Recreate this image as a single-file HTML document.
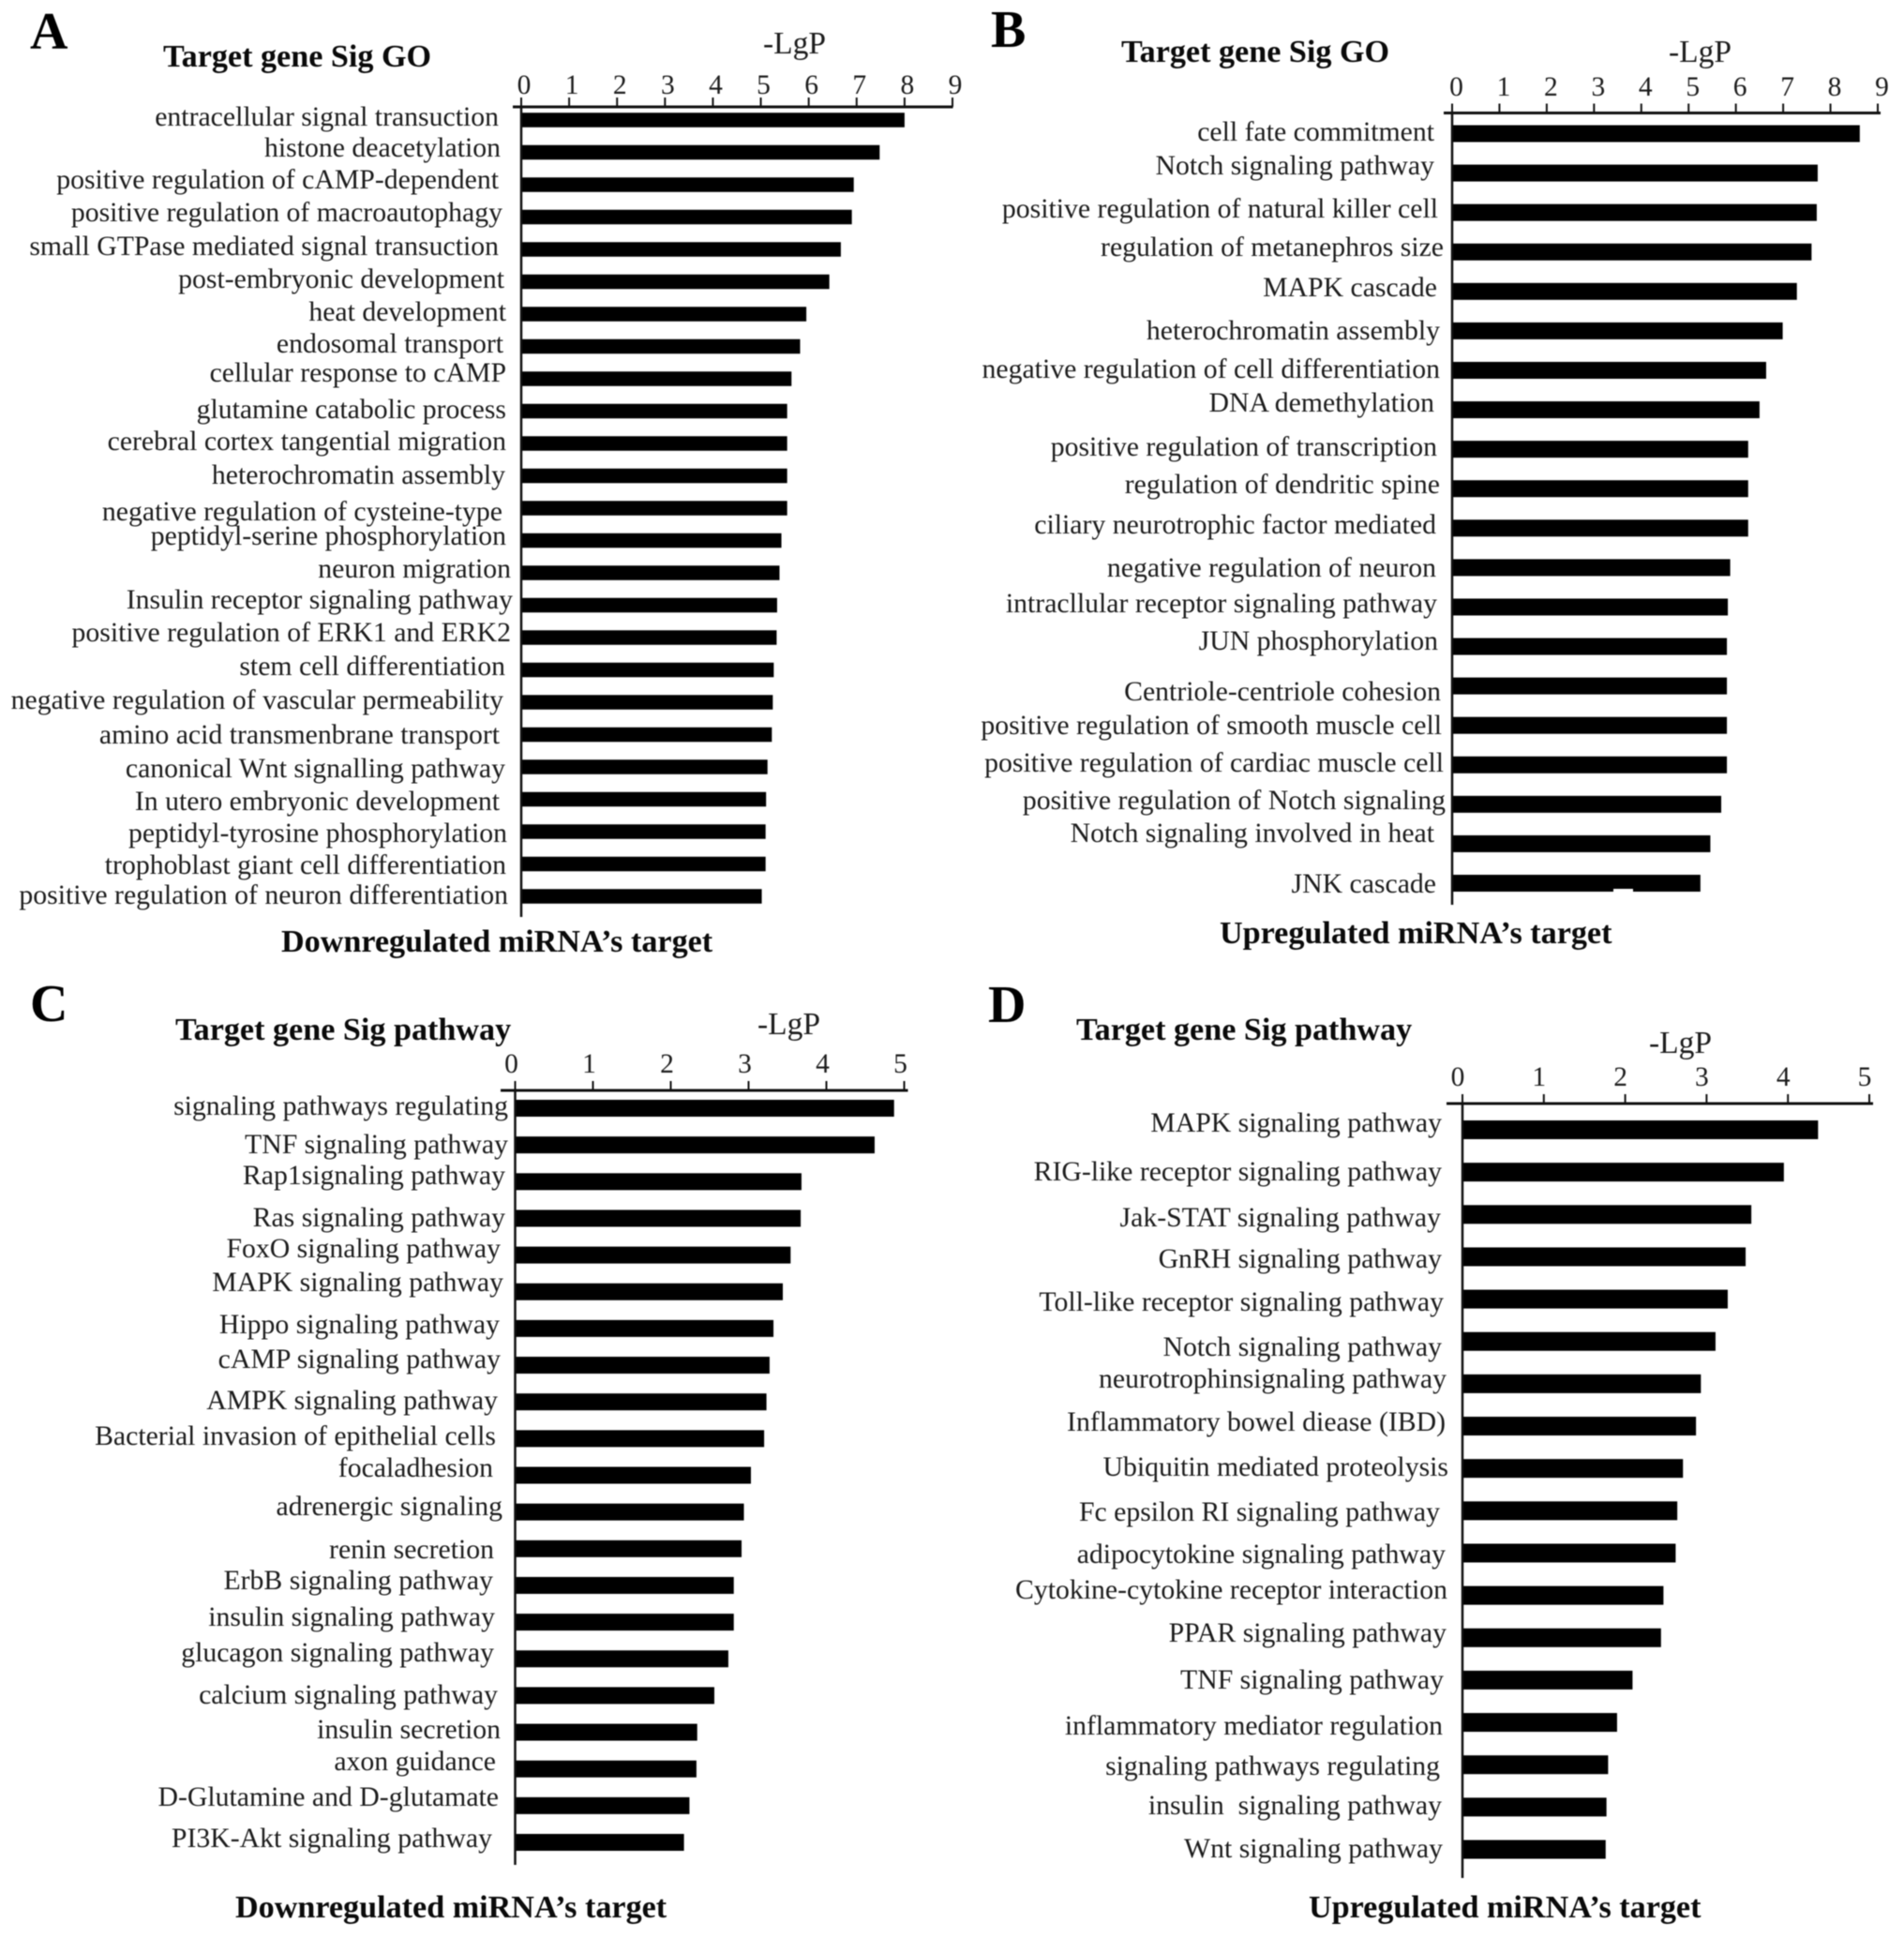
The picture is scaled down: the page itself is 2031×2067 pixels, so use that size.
<!DOCTYPE html>
<html lang="en">
<head>
<meta charset="utf-8">
<title>miRNA target gene GO and pathway enrichment</title>
<style>
  html, body { margin: 0; padding: 0; background: #fff; }
  #figure { display: block; width: 2031px; height: 2067px; filter: blur(0.55px); }
  text { font-family: "Liberation Serif", "Times New Roman", serif; fill: #1c1c1c; }
  .cat { font-size: 29.75px; text-anchor: end; }
  .tick-label { font-size: 29.5px; text-anchor: middle; }
  .head { font-size: 34.15px; font-weight: bold; fill: #0a0a0a; }
  .letter { font-size: 56px; font-weight: bold; fill: #000; }
  .unit { font-size: 33.5px; }
</style>
</head>
<body>
<svg id="figure" xmlns="http://www.w3.org/2000/svg" width="2031" height="2067" viewBox="0 0 2031 2067">
  <rect width="2031" height="2067" fill="#fff"/>

  <g id="panel-a">
    <text class="letter" x="32" y="52">A</text>
    <text class="head" x="174" y="71">Target gene Sig GO</text>
    <text class="unit" x="814" y="57">-LgP</text>
    <text class="head" x="300" y="1015">Downregulated miRNA’s target</text>
    <g>
      <text class="cat" x="532" y="134">entracellular signal transuction</text>
      <text class="cat" x="534" y="167">histone deacetylation</text>
      <text class="cat" x="532" y="201">positive regulation of cAMP-dependent</text>
      <text class="cat" x="536" y="236">positive regulation of macroautophagy</text>
      <text class="cat" x="532" y="272">small GTPase mediated signal transuction</text>
      <text class="cat" x="538" y="307">post-embryonic development</text>
      <text class="cat" x="540" y="342">heat development</text>
      <text class="cat" x="537" y="376">endosomal transport</text>
      <text class="cat" x="540" y="407">cellular response to cAMP</text>
      <text class="cat" x="540" y="446">glutamine catabolic process</text>
      <text class="cat" x="540" y="480">cerebral cortex tangential migration</text>
      <text class="cat" x="539" y="516">heterochromatin assembly</text>
      <text class="cat" x="536" y="555">negative regulation of cysteine-type</text>
      <text class="cat" x="540" y="581">peptidyl-serine phosphorylation</text>
      <text class="cat" x="545" y="616">neuron migration</text>
      <text class="cat" x="547" y="649">Insulin receptor signaling pathway</text>
      <text class="cat" x="545" y="684">positive regulation of ERK1 and ERK2</text>
      <text class="cat" x="539" y="720">stem cell differentiation</text>
      <text class="cat" x="537" y="756">negative regulation of vascular permeability</text>
      <text class="cat" x="533" y="793">amino acid transmenbrane transport</text>
      <text class="cat" x="539" y="829">canonical Wnt signalling pathway</text>
      <text class="cat" x="533" y="864">In utero embryonic development</text>
      <text class="cat" x="541" y="898">peptidyl-tyrosine phosphorylation</text>
      <text class="cat" x="540" y="932">trophoblast giant cell differentiation</text>
      <text class="cat" x="542" y="964">positive regulation of neuron differentiation</text>
    </g>
  </g>

  <g id="panel-b">
    <text class="letter" x="1057" y="50">B</text>
    <text class="head" x="1196" y="66">Target gene Sig GO</text>
    <text class="unit" x="1780" y="66">-LgP</text>
    <text class="head" x="1301" y="1006">Upregulated miRNA’s target</text>
    <g>
      <text class="cat" x="1530" y="150">cell fate commitment</text>
      <text class="cat" x="1530" y="186">Notch signaling pathway</text>
      <text class="cat" x="1534" y="232">positive regulation of natural killer cell</text>
      <text class="cat" x="1540" y="273">regulation of metanephros size</text>
      <text class="cat" x="1533" y="316">MAPK cascade</text>
      <text class="cat" x="1536" y="362">heterochromatin assembly</text>
      <text class="cat" x="1536" y="403">negative regulation of cell differentiation</text>
      <text class="cat" x="1530" y="439">DNA demethylation</text>
      <text class="cat" x="1533" y="486">positive regulation of transcription</text>
      <text class="cat" x="1536" y="526">regulation of dendritic spine</text>
      <text class="cat" x="1532" y="569">ciliary neurotrophic factor mediated</text>
      <text class="cat" x="1532" y="615">negative regulation of neuron</text>
      <text class="cat" x="1533" y="653">intracllular receptor signaling pathway</text>
      <text class="cat" x="1534" y="693">JUN phosphorylation</text>
      <text class="cat" x="1537" y="747">Centriole-centriole cohesion</text>
      <text class="cat" x="1538" y="783">positive regulation of smooth muscle cell</text>
      <text class="cat" x="1540" y="823">positive regulation of cardiac muscle cell</text>
      <text class="cat" x="1542" y="863">positive regulation of Notch signaling</text>
      <text class="cat" x="1530" y="898">Notch signaling involved in heat</text>
      <text class="cat" x="1532" y="952">JNK cascade</text>
    </g>
  </g>

  <g id="panel-c">
    <text class="letter" x="32" y="1089">C</text>
    <text class="head" x="187" y="1109">Target gene Sig pathway</text>
    <text class="unit" x="808" y="1103">-LgP</text>
    <text class="head" x="251" y="2045">Downregulated miRNA’s target</text>
    <g>
      <text class="cat" x="542" y="1189">signaling pathways regulating</text>
      <text class="cat" x="542" y="1230">TNF signaling pathway</text>
      <text class="cat" x="539" y="1263">Rap1signaling pathway</text>
      <text class="cat" x="539" y="1308">Ras signaling pathway</text>
      <text class="cat" x="534" y="1341">FoxO signaling pathway</text>
      <text class="cat" x="537" y="1377">MAPK signaling pathway</text>
      <text class="cat" x="533" y="1422">Hippo signaling pathway</text>
      <text class="cat" x="534" y="1459">cAMP signaling pathway</text>
      <text class="cat" x="531" y="1503">AMPK signaling pathway</text>
      <text class="cat" x="529" y="1541">Bacterial invasion of epithelial cells</text>
      <text class="cat" x="526" y="1575">focaladhesion</text>
      <text class="cat" x="536" y="1616">adrenergic signaling</text>
      <text class="cat" x="527" y="1662">renin secretion</text>
      <text class="cat" x="526" y="1695">ErbB signaling pathway</text>
      <text class="cat" x="528" y="1734">insulin signaling pathway</text>
      <text class="cat" x="527" y="1772">glucagon signaling pathway</text>
      <text class="cat" x="531" y="1817">calcium signaling pathway</text>
      <text class="cat" x="534" y="1854">insulin secretion</text>
      <text class="cat" x="529" y="1888">axon guidance</text>
      <text class="cat" x="532" y="1926">D-Glutamine and D-glutamate</text>
      <text class="cat" x="525" y="1970">PI3K-Akt signaling pathway</text>
    </g>
  </g>

  <g id="panel-d">
    <text class="letter" x="1054" y="1090">D</text>
    <text class="head" x="1148" y="1109">Target gene Sig pathway</text>
    <text class="unit" x="1759" y="1123">-LgP</text>
    <text class="head" x="1396" y="2045">Upregulated miRNA’s target</text>
    <g>
      <text class="cat" x="1538" y="1207">MAPK signaling pathway</text>
      <text class="cat" x="1538" y="1259">RIG-like receptor signaling pathway</text>
      <text class="cat" x="1537" y="1308">Jak-STAT signaling pathway</text>
      <text class="cat" x="1538" y="1352">GnRH signaling pathway</text>
      <text class="cat" x="1540" y="1398">Toll-like receptor signaling pathway</text>
      <text class="cat" x="1538" y="1446">Notch signaling pathway</text>
      <text class="cat" x="1543" y="1480">neurotrophinsignaling pathway</text>
      <text class="cat" x="1542" y="1526">Inflammatory bowel diease (IBD)</text>
      <text class="cat" x="1545" y="1574">Ubiquitin mediated proteolysis</text>
      <text class="cat" x="1536" y="1622">Fc epsilon RI signaling pathway</text>
      <text class="cat" x="1542" y="1667">adipocytokine signaling pathway</text>
      <text class="cat" x="1544" y="1705">Cytokine-cytokine receptor interaction</text>
      <text class="cat" x="1543" y="1751">PPAR signaling pathway</text>
      <text class="cat" x="1540" y="1801">TNF signaling pathway</text>
      <text class="cat" x="1539" y="1850">inflammatory mediator regulation</text>
      <text class="cat" x="1536" y="1893">signaling pathways regulating</text>
      <text class="cat" x="1538" y="1935">insulin&#160; signaling pathway</text>
      <text class="cat" x="1539" y="1981">Wnt signaling pathway</text>
    </g>
  </g>

  <rect x="1721" y="948" width="21" height="4" fill="#fff"/>
</svg>

<script>
// Chart data: categories and -LgP values per panel, plus axis tick labels.
const ticksGO = [0, 1, 2, 3, 4, 5, 6, 7, 8, 9];
const ticksPathway = [0, 1, 2, 3, 4, 5];

const categoriesA = ["entracellular signal transuction", "histone deacetylation", "positive regulation of cAMP-dependent", "positive regulation of macroautophagy", "small GTPase mediated signal transuction", "post-embryonic development", "heat development", "endosomal transport", "cellular response to cAMP", "glutamine catabolic process", "cerebral cortex tangential migration", "heterochromatin assembly", "negative regulation of cysteine-type", "peptidyl-serine phosphorylation", "neuron migration", "Insulin receptor signaling pathway", "positive regulation of ERK1 and ERK2", "stem cell differentiation", "negative regulation of vascular permeability", "amino acid transmenbrane transport", "canonical Wnt signalling pathway", "In utero embryonic development", "peptidyl-tyrosine phosphorylation", "trophoblast giant cell differentiation", "positive regulation of neuron differentiation"];
const valuesA = [8.00, 7.48, 6.94, 6.90, 6.67, 6.43, 5.95, 5.82, 5.64, 5.55, 5.55, 5.55, 5.55, 5.43, 5.39, 5.34, 5.33, 5.27, 5.25, 5.23, 5.14, 5.11, 5.10, 5.10, 5.02];

const categoriesB = ["cell fate commitment", "Notch signaling pathway", "positive regulation of natural killer cell", "regulation of metanephros size", "MAPK cascade", "heterochromatin assembly", "negative regulation of cell differentiation", "DNA demethylation", "positive regulation of transcription", "regulation of dendritic spine", "ciliary neurotrophic factor mediated", "negative regulation of neuron", "intracllular receptor signaling pathway", "JUN phosphorylation", "Centriole-centriole cohesion", "positive regulation of smooth muscle cell", "positive regulation of cardiac muscle cell", "positive regulation of Notch signaling", "Notch signaling involved in heat", "JNK cascade"];
const valuesB = [8.62, 7.73, 7.71, 7.60, 7.29, 6.99, 6.64, 6.50, 6.26, 6.26, 6.26, 5.88, 5.83, 5.81, 5.81, 5.81, 5.81, 5.69, 5.46, 5.25];

const categoriesC = ["signaling pathways regulating", "TNF signaling pathway", "Rap1signaling pathway", "Ras signaling pathway", "FoxO signaling pathway", "MAPK signaling pathway", "Hippo signaling pathway", "cAMP signaling pathway", "AMPK signaling pathway", "Bacterial invasion of epithelial cells", "focaladhesion", "adrenergic signaling", "renin secretion", "ErbB signaling pathway", "insulin signaling pathway", "glucagon signaling pathway", "calcium signaling pathway", "insulin secretion", "axon guidance", "D-Glutamine and D-glutamate", "PI3K-Akt signaling pathway"];
const valuesC = [4.87, 4.62, 3.68, 3.67, 3.54, 3.44, 3.32, 3.27, 3.23, 3.20, 3.03, 2.94, 2.91, 2.81, 2.81, 2.74, 2.56, 2.34, 2.33, 2.24, 2.17];

const categoriesD = ["MAPK signaling pathway", "RIG-like receptor signaling pathway", "Jak-STAT signaling pathway", "GnRH signaling pathway", "Toll-like receptor signaling pathway", "Notch signaling pathway", "neurotrophinsignaling pathway", "Inflammatory bowel diease (IBD)", "Ubiquitin mediated proteolysis", "Fc epsilon RI signaling pathway", "adipocytokine signaling pathway", "Cytokine-cytokine receptor interaction", "PPAR signaling pathway", "TNF signaling pathway", "inflammatory mediator regulation", "signaling pathways regulating", "insulin signaling pathway", "Wnt signaling pathway"];
const valuesD = [4.37, 3.95, 3.55, 3.48, 3.26, 3.11, 2.93, 2.87, 2.71, 2.64, 2.62, 2.47, 2.44, 2.09, 1.90, 1.79, 1.77, 1.76];

const SVG_NS = 'http://www.w3.org/2000/svg';

function shape(tag, parent) {
  const el = document.createElementNS(SVG_NS, tag);
  parent.appendChild(el);
  return el;
}

function drawPanel(id, cfg, ticks, categories, values) {
  const root = document.getElementById(id);
  const maxTick = ticks[ticks.length - 1];
  const xScale = function (v) { return cfg.x0 + (v / maxTick) * (cfg.x1 - cfg.x0); };
  const yScale = function (i) { return cfg.yFirst + (i / (values.length - 1)) * (cfg.yLast - cfg.yFirst); };

  // Bars
  const barGroup = shape('g', root);
  
  
  values.forEach(function (v, i) {
    const bar = shape('rect', barGroup);
    bar.setAttribute('x', xScale(0));
    bar.setAttribute('y', yScale(i) - cfg.barH / 2);
    bar.setAttribute('width', xScale(v) - xScale(0));
    bar.setAttribute('height', cfg.barH);
    bar.setAttribute('fill', '#000');
    bar.setAttribute('data-category', categories[i]);
    
    
  });

  // Axes
  const axisGroup = shape('g', root);
  
  

  const xAxis = shape('line', axisGroup);
  xAxis.setAttribute('x1', cfg.axisStart);
  xAxis.setAttribute('x2', xScale(maxTick) + cfg.axisOver);
  xAxis.setAttribute('y1', cfg.axisY);
  xAxis.setAttribute('y2', cfg.axisY);
  xAxis.setAttribute('stroke', '#111');
  xAxis.setAttribute('stroke-width', '3');
  
  

  const yAxis = shape('line', axisGroup);
  yAxis.setAttribute('x1', xScale(0));
  yAxis.setAttribute('x2', xScale(0));
  yAxis.setAttribute('y1', cfg.axisY);
  yAxis.setAttribute('y2', cfg.axisBottom);
  yAxis.setAttribute('stroke', '#111');
  yAxis.setAttribute('stroke-width', '2.5');
  
  

  ticks.forEach(function (t) {
    const mark = shape('line', axisGroup);
    mark.setAttribute('x1', xScale(t));
    mark.setAttribute('x2', xScale(t));
    mark.setAttribute('y1', cfg.axisY);
    mark.setAttribute('y2', cfg.axisY - 10);
    mark.setAttribute('stroke', '#111');
    mark.setAttribute('stroke-width', '2');
    
    

    const label = shape('text', axisGroup);
    label.setAttribute('class', 'tick-label');
    label.setAttribute('x', xScale(t) + cfg.tickDx);
    label.setAttribute('y', cfg.tickBaseline);
    label.textContent = String(t);
    
    
  });
}

drawPanel('panel-a', { x0: 556, x1: 1016, axisStart: 547, axisOver: 0.5, axisY: 114, axisBottom: 978, yFirst: 128, yLast: 956, barH: 15.5, tickDx: 3, tickBaseline: 100 }, ticksGO, categoriesA, valuesA);
drawPanel('panel-b', { x0: 1549, x1: 2003, axisStart: 1540, axisOver: 3, axisY: 120.5, axisBottom: 965, yFirst: 142.5, yLast: 942, barH: 18, tickDx: 4.5, tickBaseline: 102 }, ticksGO, categoriesB, valuesB);
drawPanel('panel-c', { x0: 549.5, x1: 964.5, axisStart: 534, axisOver: 4, axisY: 1163, axisBottom: 1989, yFirst: 1182, yLast: 1965, barH: 18, tickDx: -4, tickBaseline: 1144 }, ticksPathway, categoriesC, valuesC);
drawPanel('panel-d', { x0: 1560, x1: 1994, axisStart: 1543, axisOver: 4, axisY: 1177, axisBottom: 2003, yFirst: 1205, yLast: 1972.5, barH: 20, tickDx: -5, tickBaseline: 1158 }, ticksPathway, categoriesD, valuesD);
</script>
</body>
</html>
